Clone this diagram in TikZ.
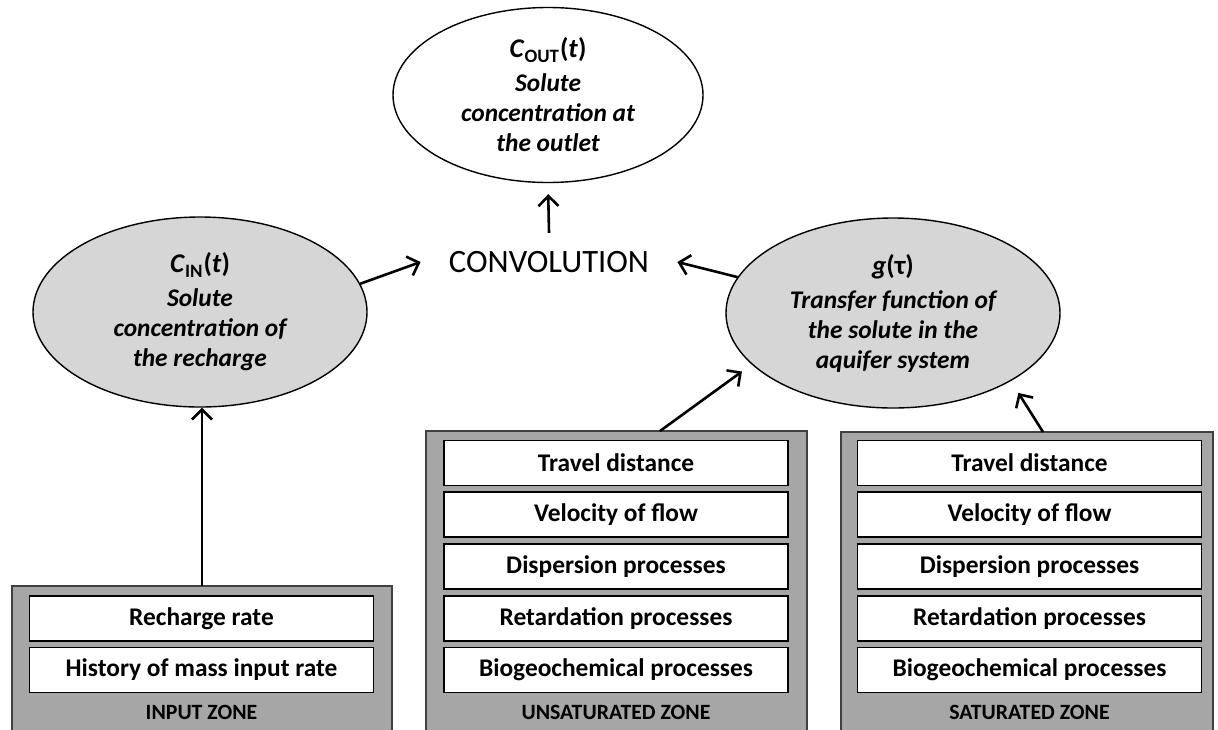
\documentclass[tikz,border=0pt]{standalone}
\usepackage{fontspec}
\setmainfont{Carlito}
\usetikzlibrary{shapes.geometric,arrows.meta}

\tikzset{
  zonebox/.style={draw=black!75, fill=black!35, line width=0.8pt, anchor=north west, inner sep=0pt, outer sep=0pt},
  rowbox/.style={draw, fill=white, line width=0.6pt, minimum width=172pt, minimum height=22.5pt, inner sep=0pt,
    font=\bfseries\fontsize{12.7}{14}\selectfont},
  zonelabel/.style={font=\bfseries\fontsize{10.9}{12}\selectfont},
  bubble/.style={ellipse, draw, line width=0.7pt, inner sep=0pt, align=center,
    font=\bfseries\fontsize{12.7}{15}\selectfont},
  arr/.style={-{Straight Barb[length=5pt,width=10pt]}, line width=1.3pt},
}

\begin{document}
\begin{tikzpicture}[x=0.5pt,y=-0.5pt]
  \useasboundingbox (0,0) rectangle (1218,729);
  \fill[white] (0,0) rectangle (1218,729);

  % columns of the zones
  \def\inx{201.5}
  \def\unsx{616}
  \def\satx{1029.5}

  % zones
  \node[zonebox, minimum width=190pt, minimum height=76pt] (inzone) at (12,586) {};
  \node[zonebox, minimum width=190.5pt, minimum height=153.5pt] (unszone) at (426,431) {};
  \node[zonebox, minimum width=186pt, minimum height=153pt] (satzone) at (841,432) {};

  % input zone
  \node[rowbox] (inrate) at (\inx,618.5) {Recharge rate};
  \node[rowbox] (inmass) at (\inx,670) {History of mass input rate};
  \node[zonelabel] (inlab) at (\inx,712) {INPUT ZONE};

  % unsaturated zone
  \node[rowbox] (unsdist) at (\unsx,463) {Travel distance};
  \node[rowbox] (unsvel) at (\unsx,514.5) {Velocity of flow};
  \node[rowbox] (unsdisp) at (\unsx,566.5) {Dispersion processes};
  \node[rowbox] (unsret) at (\unsx,618.5) {Retardation processes};
  \node[rowbox] (unsbio) at (\unsx,670) {Biogeochemical processes};
  \node[zonelabel] (unslab) at (\unsx,712) {UNSATURATED ZONE};

  % saturated zone
  \node[rowbox] (satdist) at (\satx,463) {Travel distance};
  \node[rowbox] (satvel) at (\satx,514.5) {Velocity of flow};
  \node[rowbox] (satdisp) at (\satx,566.5) {Dispersion processes};
  \node[rowbox] (satret) at (\satx,618.5) {Retardation processes};
  \node[rowbox] (satbio) at (\satx,670) {Biogeochemical processes};
  \node[zonelabel] (satlab) at (\satx,712) {SATURATED ZONE};

  % ellipses
  \node[bubble, fill=white, minimum width=155pt, minimum height=87.5pt] (cout) at (548,95)
    {{\fontsize{13.5}{15}\selectfont\textit{C}\textsubscript{OUT}(\textit{t})}\\[2pt]
     \itshape Solute\\ \itshape concentration at\\ \itshape the outlet};
  \node[bubble, fill=black!16, minimum width=167pt, minimum height=95pt] (cin) at (200,312)
    {{\fontsize{13.5}{15}\selectfont\textit{C}\textsubscript{IN}(\textit{t})}\\[2pt]
     \itshape Solute\\ \itshape concentration of\\ \itshape the recharge};
  \node[bubble, fill=black!16, minimum width=167pt, minimum height=95pt] (gtau) at (893,313)
    {{\fontsize{13.5}{15}\selectfont\textit{g}(τ)}\\[2pt]
     \itshape Transfer function of\\ \itshape the solute in the\\ \itshape aquifer system};

  \node[inner xsep=14pt, inner ysep=9pt, font=\fontsize{16.3}{18}\selectfont] (conv) at (549,262) {CONVOLUTION};

  % arrows
  \draw[arr] (cin.10) -- (conv.west);
  \draw[arr] (gtau.167) -- (conv.east);
  \draw[arr, shorten >=5.5pt] (conv.north) -- (cout.south);
  \draw[arr] (inzone.north) -- (inzone.north |- cin.south);
  \draw[arr, shorten >=6pt] ([xshift=21.75pt]unszone.north) -- (gtau.200);
  \draw[arr, shorten >=7pt] ([xshift=8pt]satzone.north) -- (gtau.-30);
\end{tikzpicture}
\end{document}
